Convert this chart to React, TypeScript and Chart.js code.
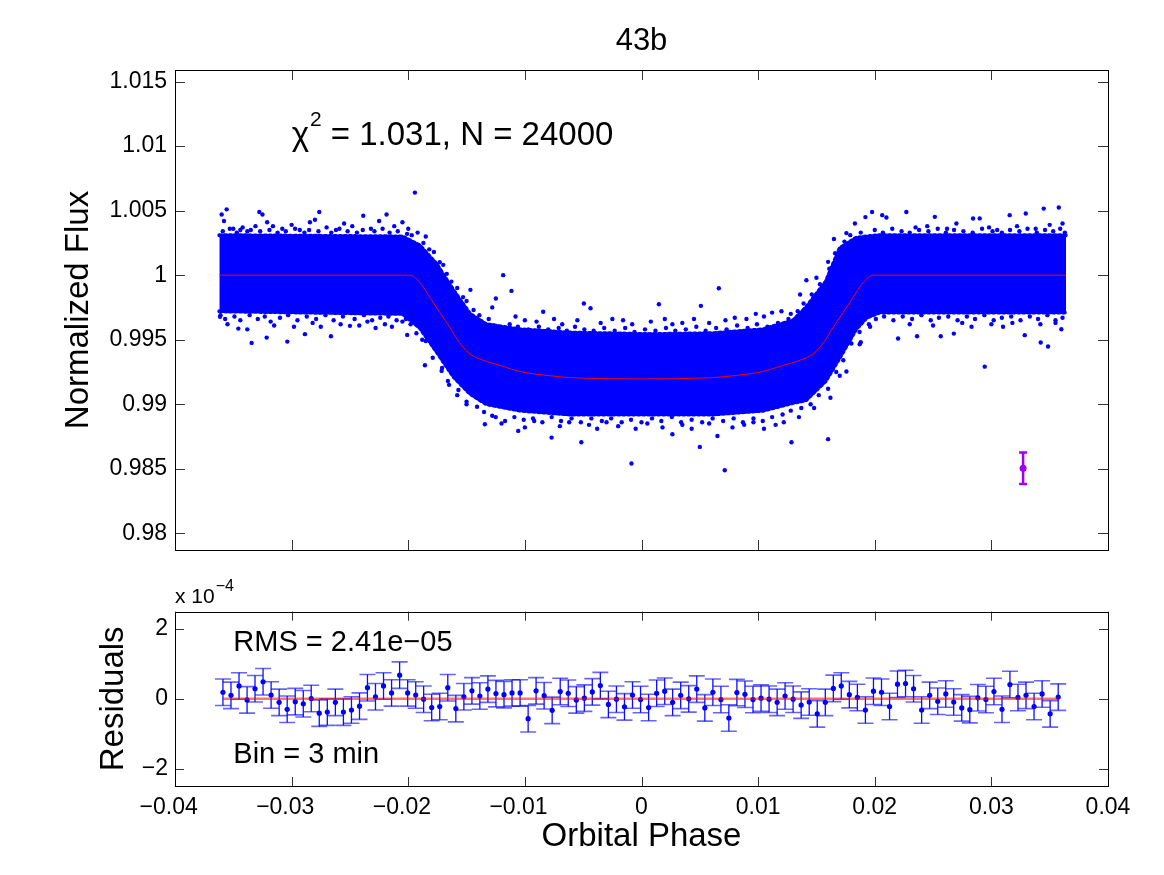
import React, { useEffect, useRef } from 'react';
import { Chart, registerables } from 'chart.js';

Chart.register(...registerables);

const FONT = '"Liberation Sans", Arial, Helvetica, sans-serif';

// axis ticks
const PHASE_TICKS = [-0.04, -0.03, -0.02, -0.01, 0, 0.01, 0.02, 0.03, 0.04];
const FLUX_TICKS = [0.98, 0.985, 0.99, 0.995, 1, 1.005, 1.01, 1.015];
const RESID_TICKS = [-2, 0, 2];

// transit model (red curve)
const MODEL_PHASE = [
  -0.0362, -0.0199, -0.019, -0.0181, -0.0173, -0.0164, -0.0156, -0.0147, -0.0136, -0.012,
  -0.0104, -0.008, -0.0061, -0.003, 0, 0.003, 0.0061, 0.008, 0.0104, 0.012,
  0.0136, 0.0147, 0.0156, 0.0164, 0.0173, 0.0181, 0.019, 0.0199, 0.0364,
];
const MODEL_FLUX = [
  1, 1, 0.99943, 0.99821, 0.99712, 0.9959, 0.99476, 0.99388, 0.99341, 0.99297,
  0.99253, 0.99222, 0.99206, 0.99198, 0.99196, 0.99198, 0.99206, 0.99222, 0.99253, 0.99297,
  0.99341, 0.99388, 0.99476, 0.9959, 0.99712, 0.99821, 0.99943, 1, 1,
];

// dense part of the 24000 points: upper and lower edge of the cloud
const BAND_PHASE = [
  -0.0362, -0.0205, -0.019, -0.0176, -0.0161, -0.0147, -0.0133, -0.0104, -0.0061, 0.0007,
  0.0061, 0.0104, 0.013, 0.0141, 0.0158, 0.017, 0.0184, 0.0193, 0.0204, 0.0364,
];
const BAND_UPPER = [
  1.0031, 1.003, 1.0023, 1.0009, 0.9988, 0.997, 0.9962, 0.9958, 0.99555, 0.99543,
  0.9955, 0.9958, 0.9965, 0.9975, 0.9995, 1.0021, 1.0029, 1.003, 1.0031, 1.0031,
];
const BAND_LOWER = [
  0.9972, 0.997, 0.9959, 0.9941, 0.9921, 0.9908, 0.99, 0.9895, 0.9892, 0.9892,
  0.9892, 0.9895, 0.9901, 0.9903, 0.9918, 0.9936, 0.9958, 0.9967, 0.9971, 0.9971,
];

// points just outside the dense cloud [phase, flux]
const EDGE_POINTS: [number, number][] = [
  [-0.0359, 1.0034], [-0.0353, 1.0036], [-0.0347, 1.0033], [-0.0344, 1.0035], [-0.0338, 1.0034],
  [-0.0331, 1.0038], [-0.0327, 1.0034], [-0.0319, 1.0035], [-0.0312, 1.0033], [-0.0305, 1.0034],
  [-0.0297, 1.0036], [-0.0289, 1.0033], [-0.0285, 1.0035], [-0.0277, 1.0034], [-0.0266, 1.0033],
  [-0.0259, 1.0036], [-0.0252, 1.0034], [-0.0244, 1.0033], [-0.0239, 1.0035], [-0.0229, 1.0034],
  [-0.0222, 1.0036], [-0.0216, 1.0033], [-0.0209, 1.0034], [-0.0201, 1.0032],
  [-0.0361, 0.9969], [-0.0357, 0.9966], [-0.0349, 0.9968], [-0.0344, 0.9965], [-0.0336, 0.9969],
  [-0.0329, 0.9966], [-0.0323, 0.9968], [-0.0318, 0.9964], [-0.031, 0.9967], [-0.0303, 0.9969],
  [-0.0295, 0.9965], [-0.0287, 0.9968], [-0.0279, 0.9966], [-0.0271, 0.9969], [-0.0264, 0.9965],
  [-0.0256, 0.9968], [-0.0246, 0.9966], [-0.0238, 0.9969], [-0.0231, 0.9965], [-0.0224, 0.9967],
  [-0.0217, 0.9968], [-0.021, 0.9965], [-0.0202, 0.9966],
  [-0.0197, 1.0031], [-0.0187, 1.0025], [-0.0182, 1.002], [-0.0173, 1.001], [-0.0167, 1.0001],
  [-0.0158, 0.999], [-0.0153, 0.9983], [-0.0144, 0.9973], [-0.0139, 0.9969], [-0.0131, 0.9966],
  [-0.0198, 0.9962], [-0.0193, 0.9955], [-0.0185, 0.9949], [-0.0179, 0.9936], [-0.0171, 0.9928],
  [-0.0166, 0.9918], [-0.0157, 0.9911], [-0.015, 0.9902], [-0.0141, 0.9898], [-0.0135, 0.9894],
  [-0.0127, 0.9961], [-0.0121, 0.9959], [-0.0113, 0.9962], [-0.0106, 0.996], [-0.0097, 0.9958],
  [-0.0088, 0.996], [-0.008, 0.9958], [-0.0071, 0.9959], [-0.0064, 0.9957], [-0.0057, 0.996],
  [-0.0049, 0.9958], [-0.0041, 0.9957], [-0.0032, 0.9959], [-0.0023, 0.9957], [-0.0014, 0.9959],
  [-0.0006, 0.9956], [0.0003, 0.9958], [0.0012, 0.9957], [0.0021, 0.9959], [0.0029, 0.9957],
  [0.0038, 0.9958], [0.0047, 0.996], [0.0055, 0.9957], [0.0064, 0.9959], [0.0073, 0.9958],
  [0.0082, 0.9961], [0.0091, 0.9959], [0.0099, 0.9962], [0.0108, 0.996], [0.0117, 0.9963],
  [-0.0125, 0.989], [-0.0117, 0.9887], [-0.0109, 0.989], [-0.0101, 0.9888], [-0.0093, 0.9889],
  [-0.0085, 0.9886], [-0.0077, 0.989], [-0.0069, 0.9887], [-0.006, 0.9889], [-0.0052, 0.9886],
  [-0.0043, 0.9889], [-0.0034, 0.9887], [-0.0026, 0.9889], [-0.0017, 0.9886], [-0.0009, 0.9888],
  [0.0, 0.9886], [0.0009, 0.9889], [0.0017, 0.9887], [0.0026, 0.989], [0.0034, 0.9886],
  [0.0043, 0.9888], [0.0052, 0.9886], [0.0061, 0.9889], [0.007, 0.9887], [0.0079, 0.9889],
  [0.0087, 0.9886], [0.0096, 0.9889], [0.0104, 0.9887], [0.0112, 0.989], [0.0121, 0.9892],
  [0.0126, 0.9966], [0.0134, 0.9972], [0.0139, 0.9978], [0.0146, 0.9985], [0.0153, 0.9993],
  [0.0161, 1.0005], [0.0166, 1.0017], [0.0174, 1.0026], [0.0179, 1.0031], [0.0188, 1.0033],
  [0.0128, 0.9895], [0.0137, 0.9897], [0.0145, 0.99], [0.0152, 0.9907], [0.016, 0.9912],
  [0.0167, 0.9925], [0.0173, 0.9934], [0.018, 0.9947], [0.0187, 0.9956], [0.0195, 0.9962],
  [0.02, 1.0035], [0.0207, 1.0033], [0.0215, 1.0036], [0.0223, 1.0034], [0.023, 1.0033],
  [0.0238, 1.0035], [0.0246, 1.0034], [0.0254, 1.0036], [0.0261, 1.0033], [0.0268, 1.0035],
  [0.0276, 1.0034], [0.0284, 1.0033], [0.0292, 1.0036], [0.0301, 1.0034], [0.0309, 1.0033],
  [0.0316, 1.0035], [0.0324, 1.0034], [0.0331, 1.0036], [0.0339, 1.0033], [0.0346, 1.0035],
  [0.0353, 1.0034], [0.0359, 1.0036], [0.0363, 1.0033],
  [0.0201, 0.9966], [0.0208, 0.9968], [0.0216, 0.9965], [0.0224, 0.9968], [0.0232, 0.9966],
  [0.024, 0.9969], [0.0248, 0.9965], [0.0255, 0.9967], [0.0263, 0.9968], [0.0271, 0.9965],
  [0.0279, 0.9968], [0.0286, 0.9966], [0.0294, 0.9969], [0.0302, 0.9965], [0.0309, 0.9967],
  [0.0317, 0.9968], [0.0325, 0.9965], [0.0333, 0.9968], [0.034, 0.9966], [0.0348, 0.9969],
  [0.0355, 0.9965], [0.0361, 0.9967],
];

// scattered points further out [phase, flux]
const OUTLIERS: [number, number][] = [
  [-0.036, 1.0047], [-0.03557, 1.0051], [-0.0358, 1.0042], [-0.035, 1.0036], [-0.0342, 1.0037],
  [-0.0335, 1.0035], [-0.03277, 1.0049], [-0.0325, 1.0047], [-0.0321, 1.0041], [-0.0316, 1.0038],
  [-0.0308, 1.0036], [-0.03, 1.0039], [-0.0293, 1.0035], [-0.02843, 1.0041], [-0.028, 1.0043],
  [-0.02763, 1.0049], [-0.027, 1.0037], [-0.0262, 1.0035], [-0.0255, 1.004], [-0.0248, 1.0038],
  [-0.02386, 1.0046], [-0.0232, 1.0036], [-0.0225, 1.0042], [-0.02186, 1.0047], [-0.0212, 1.0038],
  [-0.0205, 1.0041], [-0.01943, 1.0064], [-0.02, 1.0036], [-0.0192, 1.0033],
  [-0.03614, 0.99677], [-0.0355, 0.9962], [-0.03457, 0.99586], [-0.03343, 0.99475], [-0.0338, 0.9958],
  [-0.03214, 0.99516], [-0.0315, 0.9961], [-0.03037, 0.99485], [-0.0298, 0.996], [-0.02886, 0.99543],
  [-0.0282, 0.9963], [-0.0275, 0.996], [-0.02663, 0.99527], [-0.0258, 0.9962], [-0.025, 0.99607],
  [-0.0242, 0.9961], [-0.0235, 0.9964], [-0.0228, 0.9959], [-0.022, 0.9962], [-0.0214, 0.996],
  [-0.02009, 0.99537], [-0.0205, 0.9964],
  [-0.0185, 1.003], [-0.0178, 1.0018], [-0.017, 1.0008], [-0.0163, 0.9995], [-0.01467, 0.99886],
  [-0.015, 0.998], [-0.01249, 0.99819], [-0.0128, 0.9975], [-0.01186, 1.0], [-0.01115, 0.99878],
  [-0.0108, 0.9968], [-0.01, 0.9965], [-0.00843, 0.99716], [-0.009, 0.9964], [-0.0075, 0.9966],
  [-0.0068, 0.9962], [-0.00494, 0.9978], [-0.00437, 0.99744], [-0.0055, 0.9965], [-0.0035, 0.9963],
  [-0.0025, 0.9966], [-0.00158, 0.99651], [-0.0008, 0.9962], [0.00149, 0.99775], [0.0008, 0.9964],
  [0.002, 0.9966], [0.00265, 0.9962], [0.0035, 0.9963], [0.00509, 0.99762], [0.0045, 0.9966],
  [0.0058, 0.9963], [0.00663, 0.99899], [0.0072, 0.9965], [0.008, 0.9967], [0.009, 0.9966],
  [0.0098, 0.997], [0.0105, 0.9968], [0.0112, 0.9971], [0.012, 0.9972], [0.0128, 0.997],
  [0.0136, 0.9985], [0.01414, 0.99961], [0.015, 0.9998], [0.016, 1.00103], [0.0165, 1.0028],
  [0.01757, 1.00326], [0.0183, 1.004], [0.01977, 1.0049], [0.0192, 1.0045], [0.021, 1.00447],
  [0.02064, 1.00465], [0.02271, 1.0049], [0.0235, 1.0037], [0.02515, 1.00452], [0.0245, 1.0038],
  [0.0262, 1.0036], [0.027, 1.004], [0.02843, 1.00439], [0.029, 1.0044], [0.0298, 1.0037],
  [0.0305, 1.0035], [0.03157, 1.00465], [0.0322, 1.0038], [0.03295, 1.00478], [0.0338, 1.0036],
  [0.03449, 1.00516], [0.035, 1.0039], [0.03578, 1.00524], [0.0361, 1.004],
  [-0.0188, 0.995], [-0.01857, 0.99302], [-0.01714, 0.99258], [-0.0165, 0.9915], [-0.0158, 0.9907],
  [-0.015, 0.99], [-0.01343, 0.98845], [-0.0128, 0.9891], [-0.012, 0.9885], [-0.01057, 0.98793],
  [-0.01, 0.9882], [-0.0092, 0.9887], [-0.00771, 0.98741], [-0.007, 0.9883], [-0.0062, 0.9886],
  [-0.00516, 0.98705], [-0.0045, 0.9884], [-0.0038, 0.9881], [-0.003, 0.9886], [-0.002, 0.9883],
  [-0.00086, 0.9854], [-0.0005, 0.9881], [0.0005, 0.9885], [0.00265, 0.98767], [0.0018, 0.9882],
  [0.0035, 0.9884], [0.005, 0.98669], [0.0043, 0.9881], [0.00651, 0.98754], [0.0058, 0.9885],
  [0.00714, 0.98488], [0.0078, 0.9882], [0.0088, 0.9884], [0.0096, 0.9886], [0.0105, 0.9881],
  [0.0115, 0.9884], [0.01286, 0.98705], [0.0122, 0.9886], [0.0135, 0.989], [0.016, 0.98729],
  [0.0148, 0.9897], [0.0162, 0.9905], [0.01757, 0.99253], [0.017, 0.9922], [0.01871, 0.99465],
  [0.0188, 0.9948], [0.0196, 0.996], [0.022, 0.99509], [0.02363, 0.99527], [0.023, 0.9962],
  [0.02566, 0.99527], [0.025, 0.9961], [0.02678, 0.99547], [0.0275, 0.9963], [0.0283, 0.996],
  [0.02943, 0.99291], [0.03, 0.9962], [0.031, 0.996], [0.03286, 0.99535], [0.0318, 0.9963],
  [0.03423, 0.99478], [0.03486, 0.99447], [0.0342, 0.9962], [0.036, 0.99581], [0.0355, 0.9963],
];

// typical error bar (purple)
const ERR_PHASE = 0.03272;
const ERR_FLUX = 0.98504;
const ERR_SIZE = 0.00122;

// binned residuals (units of 1e-4)
const RESID_PHASE = [
  -0.03589, -0.0352, -0.03451, -0.03382, -0.03314, -0.03245, -0.03176, -0.03107, -0.03038, -0.02969,
  -0.029, -0.02832, -0.02763, -0.02694, -0.02625, -0.02556, -0.02487, -0.02418, -0.0235, -0.02281,
  -0.02212, -0.02143, -0.02074, -0.02005, -0.01936, -0.01868, -0.01799, -0.0173, -0.01661, -0.01592,
  -0.01523, -0.01454, -0.01386, -0.01317, -0.01248, -0.01179, -0.0111, -0.01041, -0.00972, -0.00904,
  -0.00835, -0.00766, -0.00697, -0.00628, -0.00559, -0.0049, -0.00422, -0.00353, -0.00284, -0.00215,
  -0.00146, -0.00077, -0.00008, 0.00061, 0.0013, 0.00199, 0.00267, 0.00336, 0.00405, 0.00474,
  0.00543, 0.00612, 0.00681, 0.00749, 0.00818, 0.00887, 0.00956, 0.01025, 0.01094, 0.01163,
  0.01231, 0.013, 0.01369, 0.01438, 0.01507, 0.01576, 0.01645, 0.01713, 0.01782, 0.01851,
  0.0192, 0.01989, 0.02058, 0.02127, 0.02195, 0.02264, 0.02333, 0.02402, 0.02471, 0.0254,
  0.02609, 0.02677, 0.02746, 0.02815, 0.02884, 0.02953, 0.03022, 0.03091, 0.03159, 0.03228,
  0.03297, 0.03366, 0.03435, 0.03504, 0.03573,
];
const RESID = [
  0.19, 0.1, 0.37, -0.03, 0.29, 0.49, 0.11, -0.1, -0.3, -0.08,
  -0.14, 0.01, -0.41, -0.38, -0.1, -0.38, -0.32, -0.21, 0.32, 0.06,
  0.37, 0.17, 0.68, 0.17, 0.11, -0.01, -0.25, -0.22, 0.32, -0.28,
  0.06, 0.23, 0.08, 0.28, 0.15, 0.12, 0.17, 0.17, -0.57, 0.23,
  0.09, -0.33, 0.21, 0.16, -0.03, 0.02, 0.2, 0.38, -0.16, -0.01,
  -0.23, 0.11, -0.02, -0.25, 0.16, 0.22, -0.1, 0.1, 0, 0.28,
  -0.26, 0.19, -0.02, -0.55, 0.18, 0.13, -0.02, 0.02, -0.01, -0.1,
  0.08, -0.01, -0.18, -0.09, -0.43, -0.1, 0.3, 0.37, 0.12, 0.04,
  -0.32, 0.22, 0.19, -0.22, 0.42, 0.44, 0.29, -0.32, 0.1, -0.07,
  0.14, -0.09, -0.26, -0.31, 0.03, -0.02, 0.21, -0.3, 0.41, 0.04,
  0.1, -0.22, 0.14, -0.43, 0.05,
];
const RESID_ERR = 0.38;

const minus = (v: number) => (v < 0 ? '\u2212' + String(-v) : String(v));

// box + inward ticks, like MATLAB axes
const boxPlugin = (tickLen: number) => ({
  id: 'box',
  afterDraw(chart: any) {
    const { ctx, chartArea: a, scales } = chart;
    ctx.save();
    ctx.strokeStyle = '#333';
    ctx.lineWidth = 1;
    ctx.beginPath();
    scales.x.ticks.forEach((t: any) => {
      const px = Math.round(scales.x.getPixelForValue(t.value)) + 0.5;
      ctx.moveTo(px, a.top);
      ctx.lineTo(px, a.top + tickLen);
      ctx.moveTo(px, a.bottom);
      ctx.lineTo(px, a.bottom - tickLen);
    });
    scales.y.ticks.forEach((t: any) => {
      const py = Math.round(scales.y.getPixelForValue(t.value)) + 0.5;
      ctx.moveTo(a.left, py);
      ctx.lineTo(a.left + tickLen, py);
      ctx.moveTo(a.right, py);
      ctx.lineTo(a.right - tickLen, py);
    });
    ctx.stroke();
    ctx.strokeStyle = '#000';
    ctx.strokeRect(Math.round(a.left) + 0.5, Math.round(a.top) + 0.5, Math.round(a.width), Math.round(a.height));
    ctx.restore();
  },
});

const topTextPlugin = {
  id: 'topText',
  afterDatasetsDraw(chart: any) {
    const { ctx, chartArea: a, scales } = chart;
    ctx.save();
    // purple error bar
    const ex = scales.x.getPixelForValue(ERR_PHASE);
    const eTop = scales.y.getPixelForValue(ERR_FLUX + ERR_SIZE);
    const eBot = scales.y.getPixelForValue(ERR_FLUX - ERR_SIZE);
    ctx.strokeStyle = '#a000f0';
    ctx.lineWidth = 2.5;
    ctx.beginPath();
    ctx.moveTo(ex, eTop);
    ctx.lineTo(ex, eBot);
    ctx.moveTo(ex - 4, eTop);
    ctx.lineTo(ex + 4, eTop);
    ctx.moveTo(ex - 4, eBot);
    ctx.lineTo(ex + 4, eBot);
    ctx.stroke();

    ctx.fillStyle = '#000';
    ctx.textBaseline = 'alphabetic';
    // title
    ctx.font = `31px ${FONT}`;
    ctx.textAlign = 'center';
    ctx.fillText('43b', (a.left + a.right) / 2, a.top - 20);

    // chi-square note
    ctx.textAlign = 'left';
    let tx = scales.x.getPixelForValue(-0.03);
    const base = scales.y.getPixelForValue(1.011) + 11.5;
    ctx.font = `33px ${FONT}`;
    ctx.fillText('\u03c7', tx, base);
    tx += ctx.measureText('\u03c7').width + 1;
    ctx.font = `21px ${FONT}`;
    ctx.fillText('2', tx, base - 19);
    tx += ctx.measureText('2').width;
    ctx.font = `33px ${FONT}`;
    ctx.fillText(' = 1.031, N = 24000', tx, base);
    ctx.restore();
  },
};

const bottomPlugin = {
  id: 'resid',
  beforeDatasetsDraw(chart: any) {
    const { ctx, chartArea: a, scales } = chart;
    ctx.save();
    ctx.beginPath();
    ctx.rect(a.left, a.top, a.width, a.height);
    ctx.clip();
    RESID.forEach((v, i) => {
      const px = scales.x.getPixelForValue(RESID_PHASE[i]);
      const top = scales.y.getPixelForValue(v + RESID_ERR);
      const bot = scales.y.getPixelForValue(v - RESID_ERR);
      ctx.strokeStyle = 'rgba(0,0,255,0.95)';
      ctx.lineWidth = 1.3;
      ctx.beginPath();
      ctx.moveTo(px, top);
      ctx.lineTo(px, bot);
      ctx.stroke();
      ctx.strokeStyle = 'rgba(0,0,255,0.6)';
      ctx.lineWidth = 1.6;
      ctx.beginPath();
      ctx.moveTo(px - 8, top);
      ctx.lineTo(px + 8, top);
      ctx.moveTo(px - 8, bot);
      ctx.lineTo(px + 8, bot);
      ctx.stroke();
    });
    ctx.restore();
  },
  afterDraw(chart: any) {
    const { ctx, chartArea: a, scales } = chart;
    ctx.save();
    ctx.fillStyle = '#000';
    ctx.textAlign = 'left';
    ctx.textBaseline = 'middle';
    ctx.font = `29px ${FONT}`;
    const lx = scales.x.getPixelForValue(-0.035);
    ctx.fillText('RMS = 2.41e\u221205', lx, scales.y.getPixelForValue(1.6));
    ctx.fillText('Bin = 3 min', lx, scales.y.getPixelForValue(-1.6));
    ctx.textBaseline = 'alphabetic';
    ctx.font = `21px ${FONT}`;
    ctx.fillText('x 10', a.left, a.top - 9);
    const w = ctx.measureText('x 10').width;
    ctx.font = `16px ${FONT}`;
    ctx.fillText('\u22124', a.left + w + 1, a.top - 21);
    ctx.restore();
  },
};

const tickFont = { family: FONT, size: 23 };
const titleFont = { family: FONT, size: 33 };

export default function App() {
  const topRef = useRef<HTMLCanvasElement>(null);
  const botRef = useRef<HTMLCanvasElement>(null);

  useEffect(() => {
    if (!topRef.current || !botRef.current) return;

    const top = new Chart(topRef.current, {
      type: 'scatter',
      data: {
        datasets: [
          {
            type: 'line',
            data: BAND_PHASE.map((x, i) => ({ x, y: BAND_LOWER[i] })),
            borderColor: '#0000ff',
            borderWidth: 4,
            borderDash: [2, 3],
            borderCapStyle: 'round',
            pointRadius: 0,
            fill: false,
            order: 6,
          } as any,
          {
            type: 'line',
            data: BAND_PHASE.map((x, i) => ({ x, y: BAND_UPPER[i] })),
            borderColor: '#0000ff',
            backgroundColor: '#0000ff',
            borderWidth: 4,
            borderDash: [2, 3],
            borderCapStyle: 'round',
            pointRadius: 0,
            fill: '-1',
            order: 5,
          } as any,
          {
            data: EDGE_POINTS.map(([x, y]) => ({ x, y })),
            pointRadius: 2.2,
            pointBackgroundColor: '#0000ff',
            pointBorderWidth: 0,
            order: 4,
          },
          {
            data: OUTLIERS.map(([x, y]) => ({ x, y })),
            pointRadius: 2.2,
            pointBackgroundColor: '#0000ff',
            pointBorderWidth: 0,
            order: 3,
          },
          {
            data: [{ x: ERR_PHASE, y: ERR_FLUX }],
            pointRadius: 3.5,
            pointBackgroundColor: '#a000f0',
            pointBorderWidth: 0,
            order: 1,
          },
          {
            type: 'line',
            data: MODEL_PHASE.map((x, i) => ({ x, y: MODEL_FLUX[i] })),
            borderColor: '#ff0000',
            borderWidth: 1,
            pointRadius: 0,
            cubicInterpolationMode: 'monotone',
            fill: false,
            order: 0,
          } as any,
        ],
      },
      options: {
        animation: false,
        responsive: false,
        layout: { padding: { top: 70, right: 56, bottom: 0, left: 0 } },
        plugins: { legend: { display: false }, tooltip: { enabled: false } },
        scales: {
          x: {
            type: 'linear',
            min: -0.04,
            max: 0.04,
            afterBuildTicks: (s: any) => { s.ticks = PHASE_TICKS.map((value) => ({ value })); },
            afterFit: (s: any) => { s.height = 25; },
            ticks: { display: false },
            grid: { display: false, drawTicks: false },
            border: { display: false },
          },
          y: {
            type: 'linear',
            min: 0.9787,
            max: 1.0159,
            afterBuildTicks: (s: any) => { s.ticks = FLUX_TICKS.map((value) => ({ value })); },
            afterFit: (s: any) => { s.width = 175; },
            ticks: { font: tickFont, color: '#000', padding: 8, callback: (v: any) => minus(Number(v)) },
            grid: { display: false, drawTicks: false },
            border: { display: false },
            title: { display: true, text: 'Normalized Flux', font: titleFont, color: '#000', padding: { top: 59, bottom: 0 } },
          },
        },
      },
      plugins: [topTextPlugin, boxPlugin(10)],
    });

    const bottom = new Chart(botRef.current, {
      type: 'scatter',
      data: {
        datasets: [
          {
            type: 'line',
            data: [
              { x: RESID_PHASE[0], y: 0 },
              { x: RESID_PHASE[RESID_PHASE.length - 1], y: 0 },
            ],
            borderColor: 'rgba(255,0,0,0.55)',
            borderWidth: 2.5,
            pointRadius: 0,
            fill: false,
            order: 0,
          } as any,
          {
            data: RESID_PHASE.map((x, i) => ({ x, y: RESID[i] })),
            pointRadius: 2.6,
            pointBackgroundColor: '#0000ff',
            pointBorderWidth: 0,
            order: 1,
          },
        ],
      },
      options: {
        animation: false,
        responsive: false,
        layout: { padding: { top: 36.7, right: 56, bottom: 0, left: 0 } },
        plugins: { legend: { display: false }, tooltip: { enabled: false } },
        scales: {
          x: {
            type: 'linear',
            min: -0.04,
            max: 0.04,
            afterBuildTicks: (s: any) => { s.ticks = PHASE_TICKS.map((value) => ({ value })); },
            afterFit: (s: any) => { s.height = 89; },
            ticks: {
              font: tickFont,
              color: '#000',
              padding: 8,
              maxRotation: 0,
              autoSkip: false,
              callback: (v: any) => (Number(v) < 0 ? minus(Number(v)) + '  ' : minus(Number(v))),
            },
            grid: { display: false, drawTicks: false },
            border: { display: false },
            title: { display: true, text: 'Orbital Phase', font: titleFont, color: '#000', padding: { top: 0, bottom: 18 } },
          },
          y: {
            type: 'linear',
            min: -2.5,
            max: 2.5,
            afterBuildTicks: (s: any) => { s.ticks = RESID_TICKS.map((value) => ({ value })); },
            afterFit: (s: any) => { s.width = 175; },
            ticks: { font: tickFont, color: '#000', padding: 7, callback: (v: any) => minus(Number(v)) },
            grid: { display: false, drawTicks: false },
            border: { display: false },
            title: { display: true, text: 'Residuals', font: titleFont, color: '#000', padding: { top: 94, bottom: 0 } },
          },
        },
      },
      plugins: [bottomPlugin, boxPlugin(9)],
    });

    return () => {
      top.destroy();
      bottom.destroy();
    };
  }, []);

  return (
    <div style={{ position: 'absolute', left: 0, top: 0, width: 1164, height: 875, background: '#fff' }}>
      <canvas ref={topRef} width={1164} height={575} style={{ position: 'absolute', left: 0, top: 0 }} />
      <canvas ref={botRef} width={1164} height={300} style={{ position: 'absolute', left: 0, top: 575 }} />
    </div>
  );
}
